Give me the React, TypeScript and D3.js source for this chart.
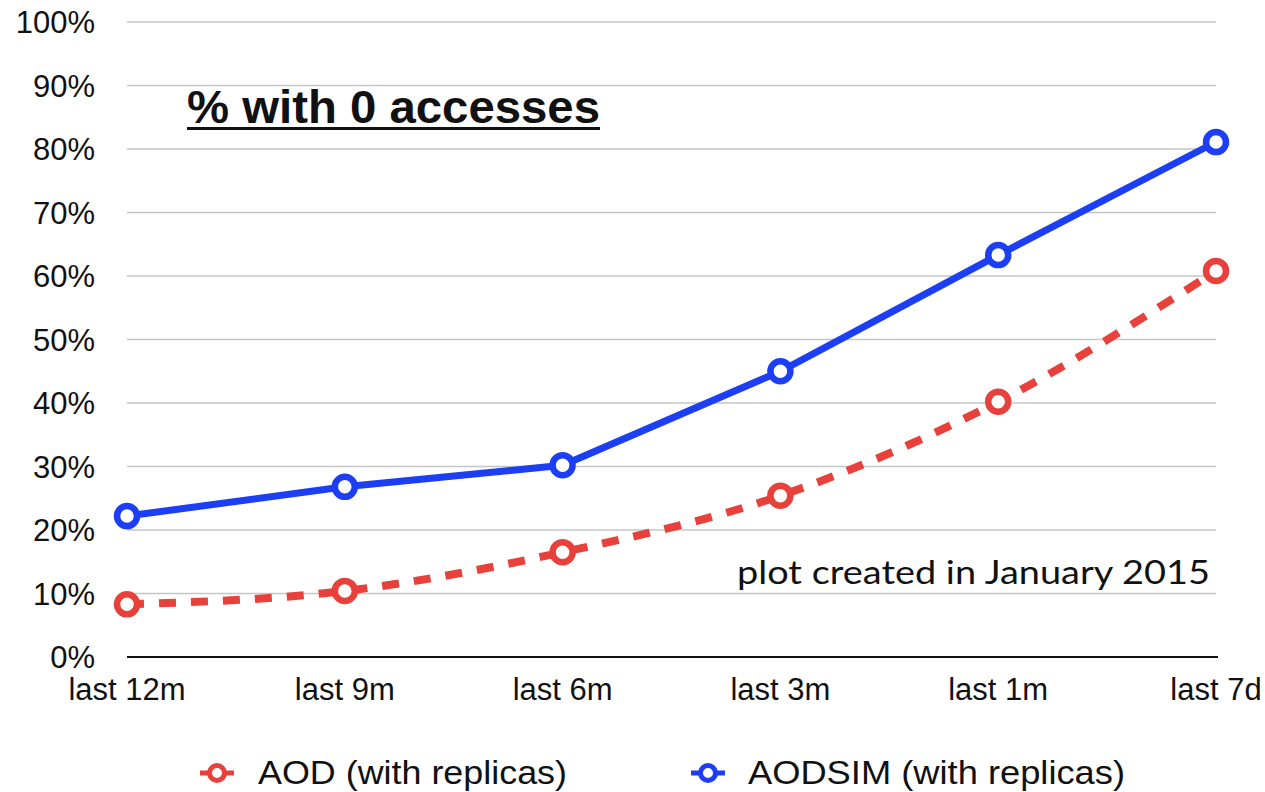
import React from "react";
import * as d3 from "d3";

const categories = ["last 12m", "last 9m", "last 6m", "last 3m", "last 1m", "last 7d"];
const aodValues = [8.3, 10.4, 16.5, 25.4, 40.2, 60.8];
const aodsimValues = [22.2, 26.8, 30.2, 45.0, 63.3, 81.1];
const yTicks = [0, 10, 20, 30, 40, 50, 60, 70, 80, 90, 100];
const seriesNames = ["AOD (with replicas)", "AODSIM (with replicas)"];

const W = 1265;
const H = 792;
const RED = "#e8403a";
const BLUE = "#1c3ef5";

export default function App() {
  const x = d3.scalePoint<string>().domain(categories).range([127, 1216]);
  const y = d3.scaleLinear().domain([0, 100]).range([657, 22]);

  const redLine = d3
    .line<number>()
    .x((_, i) => x(categories[i])!)
    .y((d) => y(d))
    .curve(d3.curveMonotoneX);
  const blueLine = d3
    .line<number>()
    .x((_, i) => x(categories[i])!)
    .y((d) => y(d))
    .curve(d3.curveLinear);

  const font = "'Liberation Sans', Arial, Helvetica, sans-serif";

  return (
    <svg
      width={W}
      height={H}
      style={{ position: "absolute", left: 0, top: 0, background: "#fff" }}
      fontFamily={font}
    >
      <rect x={0} y={0} width={W} height={H} fill="#fff" />
      {yTicks.map((t) =>
        t === 0 ? null : (
          <line key={"g" + t} x1={127} x2={1216} y1={y(t)} y2={y(t)} stroke="#c6c6c6" strokeWidth={1.5} />
        )
      )}
      <line x1={127} x2={1218} y1={y(0)} y2={y(0)} stroke="#111" strokeWidth={2} />
      {yTicks.map((t) => (
        <text key={"t" + t} x={95} y={y(t) + 11} textAnchor="end" fontSize={31} fill="#111">
          {t + "%"}
        </text>
      ))}
      {categories.map((c) => (
        <text key={c} x={x(c)!} y={700} textAnchor="middle" fontSize={31} fill="#111">
          {c}
        </text>
      ))}

      <text x={187} y={123} fontSize={46} fontWeight="bold" fill="#111" textLength={413} lengthAdjust="spacingAndGlyphs">
        % with 0 accesses
      </text>
      <line x1={187} x2={600} y1={128.5} y2={128.5} stroke="#111" strokeWidth={3} />

      <text
        x={737}
        y={584}
        fontSize={33}
        fill="#111"
        fontFamily="Lato, 'Open Sans', sans-serif"
        textLength={473}
        lengthAdjust="spacingAndGlyphs"
      >
        plot created in January 2015
      </text>

      <path d={redLine(aodValues) || ""} fill="none" stroke={RED} strokeWidth={8} strokeDasharray="17 15" />
      <path d={blueLine(aodsimValues) || ""} fill="none" stroke={BLUE} strokeWidth={7} />

      {aodValues.map((v, i) => (
        <circle key={"r" + i} cx={x(categories[i])!} cy={y(v)} r={10} fill="#fff" stroke={RED} strokeWidth={6.5} />
      ))}
      {aodsimValues.map((v, i) => (
        <circle key={"b" + i} cx={x(categories[i])!} cy={y(v)} r={10} fill="#fff" stroke={BLUE} strokeWidth={6.5} />
      ))}

      {/* Legend */}
      {[
        { name: seriesNames[0], color: RED, mx: 217, tx: 258, len: 309 },
        { name: seriesNames[1], color: BLUE, mx: 708, tx: 748, len: 377 },
      ].map((s) => (
        <g key={s.name}>
          <line x1={s.mx - 17} x2={s.mx + 17} y1={773} y2={773} stroke={s.color} strokeWidth={5} />
          <circle cx={s.mx} cy={773} r={7.5} fill="#fff" stroke={s.color} strokeWidth={5} />
          <text x={s.tx} y={784} fontSize={33} fill="#111" textLength={s.len} lengthAdjust="spacingAndGlyphs">
            {s.name}
          </text>
        </g>
      ))}
    </svg>
  );
}
